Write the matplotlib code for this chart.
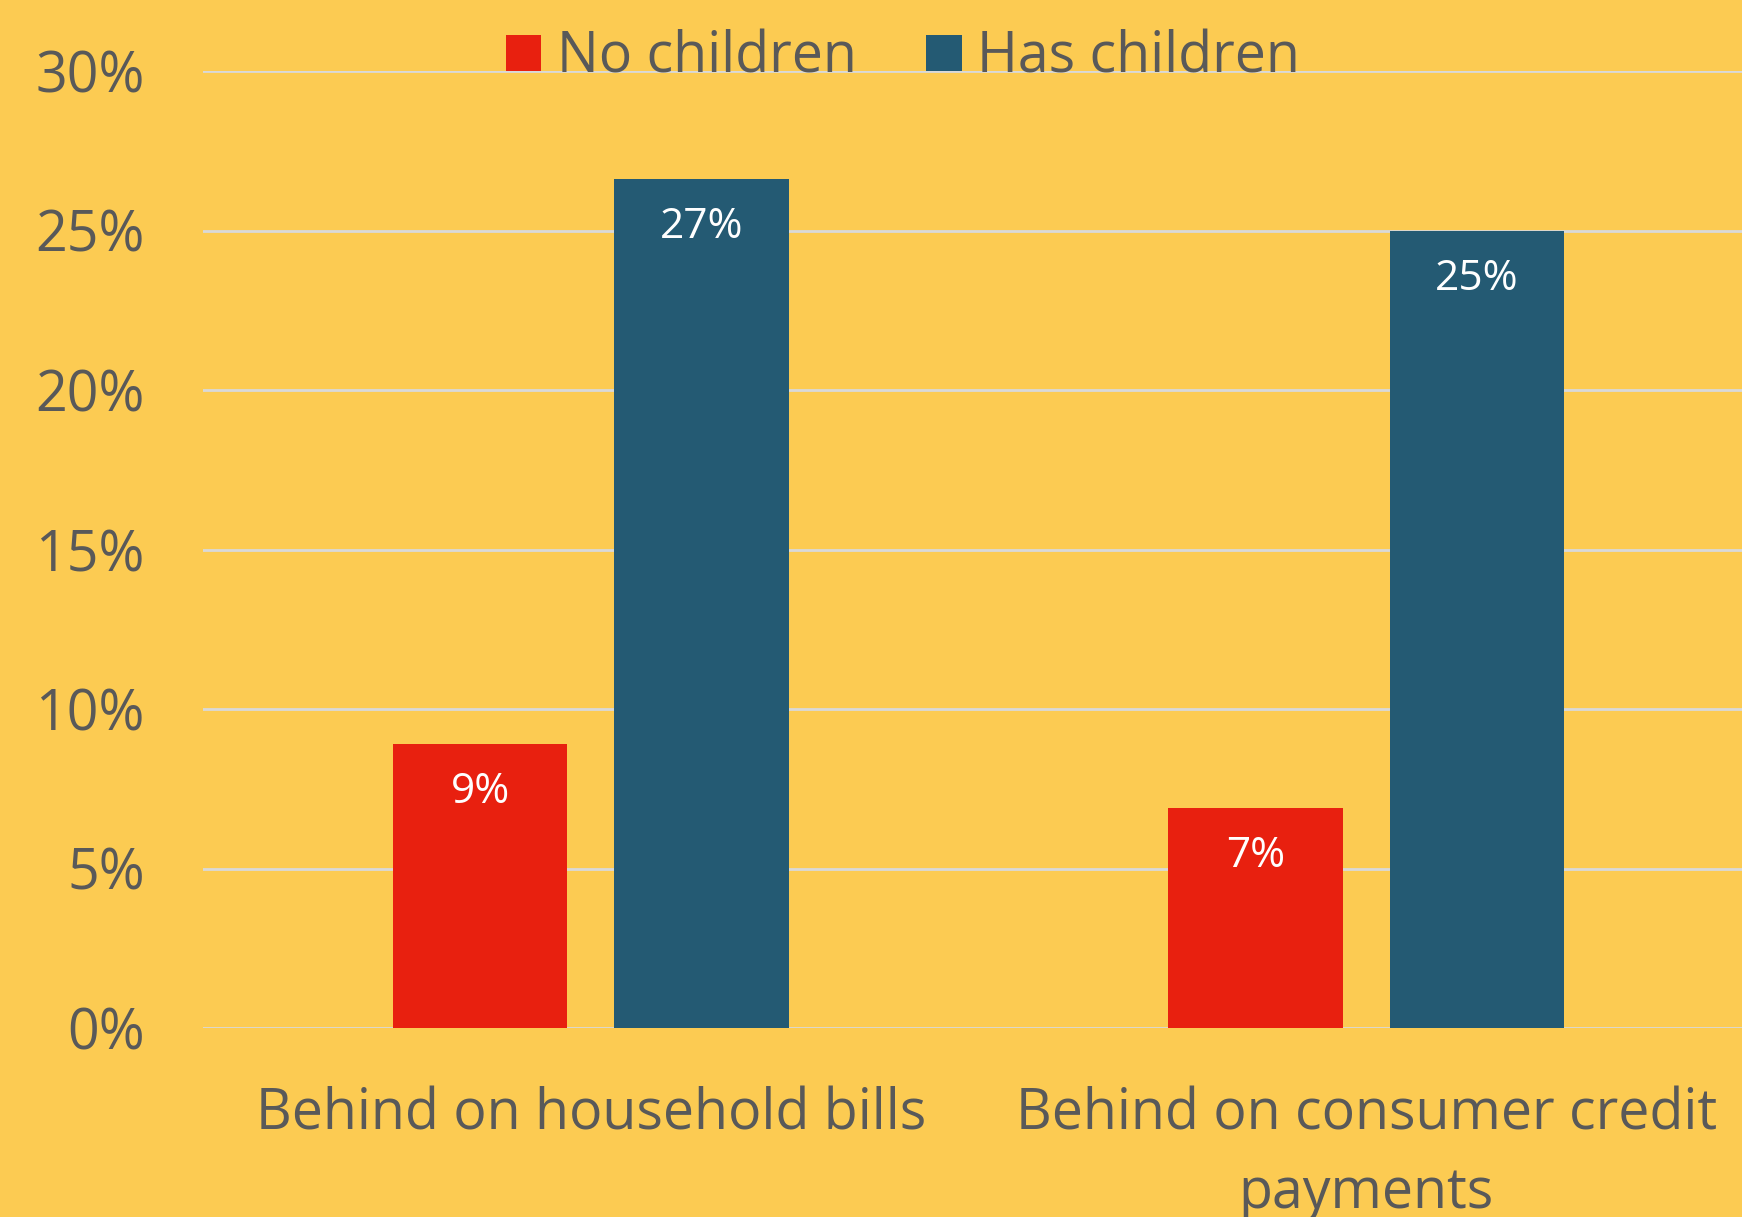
import matplotlib.pyplot as plt
import numpy as np
from matplotlib.ticker import PercentFormatter

categories = ['Behind on household bills', 'Behind on consumer credit\npayments']
no_children = [8.9, 6.9]
has_children = [26.6, 25.0]
series_names = ['No children', 'Has children']
labels_no = ['9%', '7%']
labels_has = ['27%', '25%']

bg = '#FCCB52'
red = '#E8200F'
blue = '#245A73'
grey = '#595959'

plt.rcParams['font.family'] = ['Open Sans', 'DejaVu Sans']

fig = plt.figure(figsize=(17.42, 12.17), dpi=100, facecolor=bg)
ax = fig.add_axes([203 / 1742, 1 - 1028 / 1217, 1551 / 1742, (1028 - 71) / 1217])
ax.set_facecolor(bg)

x = np.arange(len(categories))
w = 0.225
b1 = ax.bar(x - 0.1425, no_children, w, color=red, label=series_names[0], zorder=3)
b2 = ax.bar(x + 0.1425, has_children, w, color=blue, label=series_names[1], zorder=3)

for bars, labs in [(b1, labels_no), (b2, labels_has)]:
    for rect, lab in zip(bars, labs):
        ax.annotate(lab, (rect.get_x() + rect.get_width() / 2, rect.get_height()),
                    xytext=(0, -48 * 0.72), textcoords='offset points',
                    ha='center', va='center', color='white', fontsize=30.5, zorder=4)

ax.set_xlim(-0.5, 1.5)
ax.set_ylim(0, 30)
ax.set_yticks(range(0, 31, 5))
ax.yaxis.set_major_formatter(PercentFormatter(decimals=0))
ax.grid(axis='y', color='#D9D9D9', linewidth=2, zorder=0)
ax.set_xticks(x)
ax.set_xticklabels(categories, fontsize=40, color=grey, linespacing=1.5)
ax.tick_params(axis='x', length=0, pad=42)
ax.tick_params(axis='y', length=0, pad=42, labelsize=40, labelcolor=grey)
for s in ax.spines.values():
    s.set_visible(False)

leg = fig.legend(loc='center', bbox_to_anchor=(903 / 1742, 1 - 58 / 1217), ncol=2,
                 frameon=False, fontsize=40, labelcolor=grey, handlelength=0.64,
                 handleheight=0.64, handletextpad=0.28, columnspacing=1.25)

fig.savefig('out.png', dpi=100, facecolor=bg)
